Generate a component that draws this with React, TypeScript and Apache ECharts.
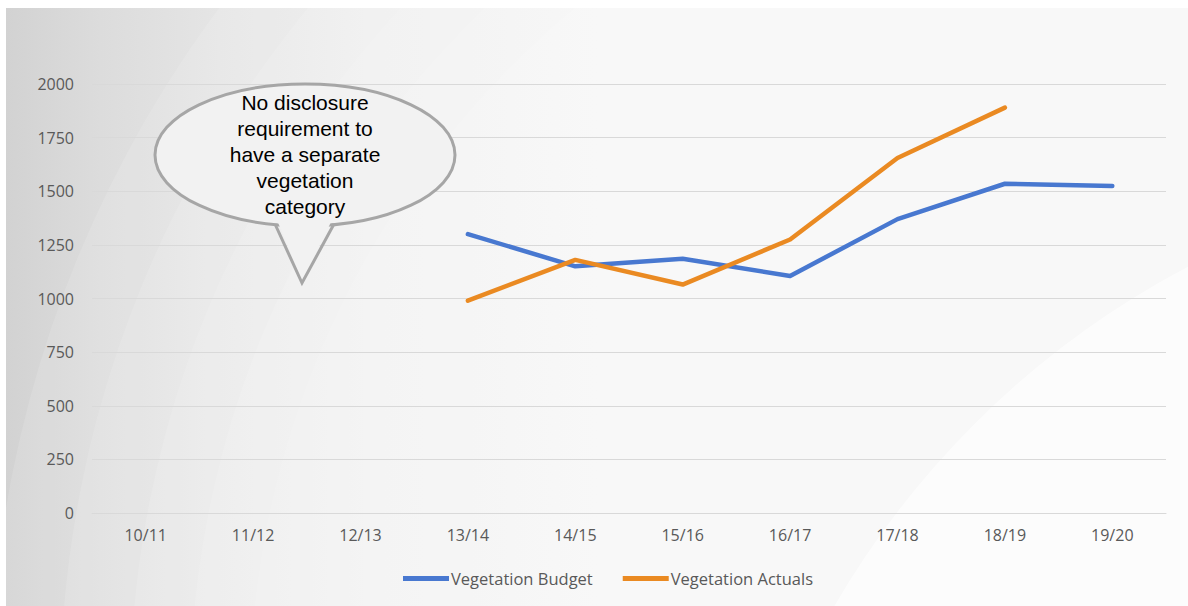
import React, { useEffect, useRef } from "react";
import * as echarts from "echarts";

const categories = ["10/11", "11/12", "12/13", "13/14", "14/15", "15/16", "16/17", "17/18", "18/19", "19/20"];
const budget = [null, null, null, 1300, 1150, 1185, 1105, 1370, 1535, 1525];
const actuals = [null, null, null, 990, 1180, 1065, 1275, 1655, 1890, null];
const yTicks = { min: 0, max: 2000, interval: 250 };
const calloutLines = ["No disclosure", "requirement to", "have a separate", "vegetation", "category"];

export default function App() {
  const ref = useRef<HTMLDivElement>(null);
  useEffect(() => {
    const chart = echarts.init(ref.current!, null, { renderer: "svg" });
    const font = "'Open Sans', 'Noto Sans', sans-serif";
    const bandRadii = [1160, 1090, 1020, 960, 900];
    const bands = bandRadii.map((r) => ({
      type: "circle",
      z: -90,
      silent: true,
      shape: { cx: 1150, cy: 700, r },
      style: { fill: "rgba(255,255,255,0.12)" },
    }));
    chart.setOption({
      animation: false,
      grid: { left: 92, right: 22, top: 84, bottom: 93 },
      graphic: [
        {
          type: "rect",
          z: -100,
          silent: true,
          shape: { x: 6, y: 8, width: 1182, height: 598 },
          style: {
            fill: new echarts.graphic.LinearGradient(0, 0, 1, 0, [
              { offset: 0, color: "#d2d2d2" },
              { offset: 0.08, color: "#dcdcdc" },
              { offset: 0.18, color: "#e5e5e5" },
              { offset: 0.32, color: "#eeeeee" },
              { offset: 0.5, color: "#f3f3f3" },
              { offset: 1, color: "#f5f5f5" },
            ]),
          },
        },
        ...bands,
        {
          type: "circle",
          z: -80,
          silent: true,
          shape: { cx: 1600, cy: 1050, r: 885 },
          style: { fill: "rgba(255,255,255,0.6)" },
        },
        {
          type: "rect",
          z: -70,
          silent: true,
          shape: { x: 0, y: 0, width: 1188, height: 8 },
          style: { fill: "#ffffff" },
        },
        {
          type: "rect",
          z: -70,
          silent: true,
          shape: { x: 0, y: 0, width: 6, height: 606 },
          style: { fill: "#ffffff" },
        },
        {
          type: "ellipse",
          z: 100,
          shape: { cx: 305, cy: 155, rx: 150, ry: 71 },
          style: { fill: "#f2f2f2", stroke: "#a6a6a6", lineWidth: 3 },
        },
        {
          type: "polygon",
          z: 101,
          shape: { points: [[277, 220], [302, 282], [332, 220]] },
          style: { fill: "#f2f2f2", stroke: "none" },
        },
        {
          type: "polyline",
          z: 102,
          shape: { points: [[275, 224], [302, 283], [334, 224]] },
          style: { stroke: "#a6a6a6", lineWidth: 3, fill: "none", lineJoin: "miter" },
        },
        {
          type: "text",
          z: 103,
          x: 305,
          y: 89,
          style: {
            text: calloutLines.join("\n"),
            fill: "#000000",
            font: "21px 'Liberation Sans', Arial, sans-serif",
            lineHeight: 26,
            align: "center",
            verticalAlign: "top",
          },
        },
      ],
      legend: {
        bottom: 14,
        left: 398,
        itemWidth: 46,
        itemHeight: 5,
        itemGap: 30,
        icon: "rect",
        textStyle: { color: "#595959", fontSize: 16.5, fontFamily: font, padding: [0, 0, 0, -3] },
        data: ["Vegetation Budget", "Vegetation Actuals"],
      },
      xAxis: {
        type: "category",
        data: categories,
        boundaryGap: true,
        axisLine: { show: true, lineStyle: { color: "#d9d9d9", width: 1 } },
        axisTick: { show: false },
        axisLabel: { color: "#595959", fontSize: 16, fontFamily: font, margin: 14 },
      },
      yAxis: {
        type: "value",
        min: yTicks.min,
        max: yTicks.max,
        interval: yTicks.interval,
        axisLine: { show: false },
        axisTick: { show: false },
        axisLabel: {
          color: "#595959",
          fontSize: 16,
          fontFamily: font,
          margin: 18,
          formatter: (v: number) => String(v),
        },
        splitLine: { lineStyle: { color: "#d9d9d9", width: 1 } },
      },
      series: [
        {
          name: "Vegetation Budget",
          type: "line",
          data: budget,
          showSymbol: false,
          symbol: "none",
          lineStyle: { color: "#4878d0", width: 4.5, cap: "round", join: "round" },
          itemStyle: { color: "#4878d0" },
        },
        {
          name: "Vegetation Actuals",
          type: "line",
          data: actuals,
          showSymbol: false,
          symbol: "none",
          lineStyle: { color: "#ea8a22", width: 4.5, cap: "round", join: "round" },
          itemStyle: { color: "#ea8a22" },
        },
      ],
    });
    return () => chart.dispose();
  }, []);
  return (
    <div style={{ position: "fixed", left: 0, top: 0, width: 1188, height: 606, background: "#ffffff" }}>
      <div ref={ref} style={{ width: 1188, height: 606 }} />
    </div>
  );
}
